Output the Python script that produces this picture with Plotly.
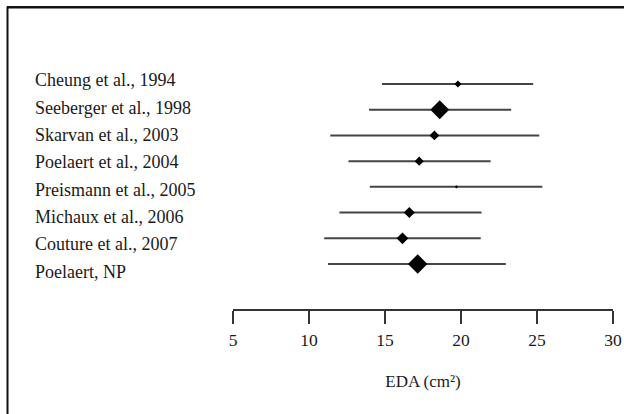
import plotly.graph_objects as go

studies = ["Cheung et al., 1994", "Seeberger et al., 1998", "Skarvan et al., 2003",
           "Poelaert et al., 2004", "Preismann et al., 2005", "Michaux et al., 2006",
           "Couture et al., 2007", "Poelaert, NP"]
mean_eda = [19.8, 18.6, 18.25, 17.25, 19.7, 16.6, 16.15, 17.15]
ci_low = [14.8, 13.95, 11.4, 12.6, 14.0, 12.0, 11.0, 11.25]
ci_high = [24.75, 23.3, 25.15, 21.95, 25.35, 21.35, 21.3, 22.95]
x_ticks = [5, 10, 15, 20, 25, 30]

marker_sizes = [5.5, 14.5, 7.5, 7, 2.5, 8.5, 9, 15]

W, H = 624, 414
L, R, T, B = 233, 11, 59, 105
pw, ph = W - L - R, H - T - B
FONT = "Liberation Serif"

fig = go.Figure()
rows = list(range(len(studies)))
for i in rows:
    fig.add_trace(go.Scatter(
        x=[ci_low[i], ci_high[i]], y=[i, i], mode="lines",
        line=dict(color="#444444", width=2), hoverinfo="skip", showlegend=False))
fig.add_trace(go.Scatter(
    x=mean_eda, y=rows, mode="markers",
    marker=dict(symbol="diamond", size=marker_sizes, color="black",
                opacity=1, line=dict(width=0)),
    showlegend=False))

for i, s in enumerate(studies):
    fig.add_annotation(x=(33 - L) / pw, xref="paper", y=i, yref="y",
                       text=s, showarrow=False, xanchor="left", yanchor="middle",
                       yshift=-(i - 3.5) * 1.6 - 2,
                       font=dict(family=FONT, size=18, color="#1a1a1a"))

# frame (only top and left edges fall inside the figure)
fig.add_shape(type="rect", xref="paper", yref="paper",
              x0=(7.5 - L) / pw, x1=(W + 40 - L) / pw,
              y0=(H - B - 7.5) / ph, y1=(H - B - H - 40) / ph,
              line=dict(color="#111", width=2), fillcolor="rgba(0,0,0,0)",
              layer="below")

fig.update_layout(
    width=W, height=H, autosize=False,
    margin=dict(l=L, r=R, t=T, b=B, pad=0, autoexpand=False),
    paper_bgcolor="white", plot_bgcolor="rgba(0,0,0,0)",
    xaxis=dict(range=[5, 30], tickvals=x_ticks, ticktext=[str(v) for v in x_ticks],
               automargin=False,
               showgrid=False, zeroline=False, showline=True, linecolor="#333",
               linewidth=2, ticks="outside", ticklen=13, tickwidth=2, tickcolor="#333",
               tickfont=dict(family=FONT, size=17.5, color="#1a1a1a"),
               ticklabelstandoff=1, ticklabeloverflow="allow",
               title=dict(text="EDA (cm²)", standoff=26,
                          font=dict(family=FONT, size=17, color="#1a1a1a"))),
    yaxis=dict(range=[8.75, -0.973], showgrid=False, zeroline=False, showline=False,
               showticklabels=False, ticks="", automargin=False),
)

post = (
    "document.body.style.margin='0';document.body.style.overflow='hidden';"
    "var fr=document.createElement('div');"
    "fr.style.cssText='position:absolute;left:6.5px;top:6px;width:700px;height:600px;"
    "border-top:2px solid #111;pointer-events:none;';"
    "document.body.appendChild(fr);"
)
fig.write_html("out.html",
               config={"displayModeBar": False, "responsive": False, "staticPlot": True},
               post_script=post)
